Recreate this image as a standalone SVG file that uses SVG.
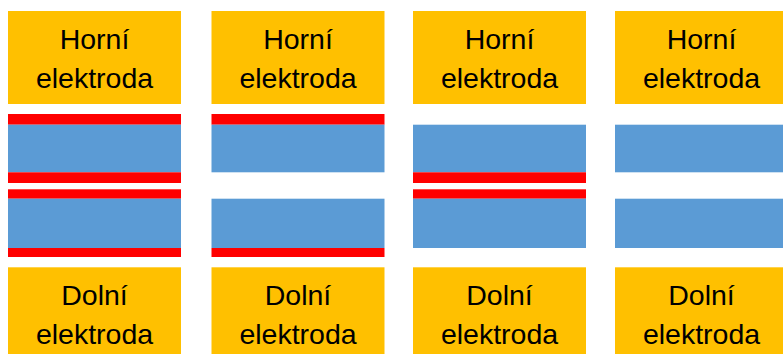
<svg xmlns="http://www.w3.org/2000/svg" width="783" height="354" viewBox="0 0 783 354">
<style>
.el{fill:#FFC000}
.bl{fill:#5B9BD5}
.rd{fill:#FF0000}
.t{font-family:"Liberation Sans",Arial,sans-serif;font-size:28.5px;fill:#000;text-anchor:middle}
</style>
<rect width="783" height="354" fill="#fff"/>
<g id="panel1">
<g id="top1"><rect class="el" x="8" y="11" width="173" height="93"/><text class="t" x="94.5" y="49">Horní</text><text class="t" x="94.5" y="87.5">elektroda</text></g>
<rect class="rd" x="8" y="114" width="173" height="10.7"/>
<rect class="bl" x="8" y="124.7" width="173" height="47.6"/>
<rect class="rd" x="8" y="172.3" width="173" height="10.7"/>
<rect class="rd" x="8" y="189.3" width="173" height="9.4"/>
<rect class="bl" x="8" y="198.7" width="173" height="49.3"/>
<rect class="rd" x="8" y="248" width="173" height="9"/>
<g id="bot1"><rect class="el" x="8" y="267.3" width="173" height="90"/><text class="t" x="94.5" y="305">Dolní</text><text class="t" x="94.5" y="344">elektroda</text></g>
</g>
<g id="panel2">
<g id="top2"><rect class="el" x="211.5" y="11" width="173" height="93"/><text class="t" x="298" y="49">Horní</text><text class="t" x="298" y="87.5">elektroda</text></g>
<rect class="rd" x="211.5" y="114" width="173" height="10.7"/>
<rect class="bl" x="211.5" y="124.7" width="173" height="47.6"/>
<rect class="bl" x="211.5" y="198.7" width="173" height="49.3"/>
<rect class="rd" x="211.5" y="248" width="173" height="9"/>
<g id="bot2"><rect class="el" x="211.5" y="267.3" width="173" height="90"/><text class="t" x="298" y="305">Dolní</text><text class="t" x="298" y="344">elektroda</text></g>
</g>
<g id="panel3">
<g id="top3"><rect class="el" x="413" y="11" width="173" height="93"/><text class="t" x="499.5" y="49">Horní</text><text class="t" x="499.5" y="87.5">elektroda</text></g>
<rect class="bl" x="413" y="124.7" width="173" height="47.6"/>
<rect class="rd" x="413" y="172.3" width="173" height="10.7"/>
<rect class="rd" x="413" y="189.3" width="173" height="9.4"/>
<rect class="bl" x="413" y="198.7" width="173" height="49.3"/>
<g id="bot3"><rect class="el" x="413" y="267.3" width="173" height="90"/><text class="t" x="499.5" y="305">Dolní</text><text class="t" x="499.5" y="344">elektroda</text></g>
</g>
<g id="panel4">
<g id="top4"><rect class="el" x="615" y="11" width="173" height="93"/><text class="t" x="701.5" y="49">Horní</text><text class="t" x="701.5" y="87.5">elektroda</text></g>
<rect class="bl" x="615" y="124.7" width="173" height="47.6"/>
<rect class="bl" x="615" y="198.7" width="173" height="49.3"/>
<g id="bot4"><rect class="el" x="615" y="267.3" width="173" height="90"/><text class="t" x="701.5" y="305">Dolní</text><text class="t" x="701.5" y="344">elektroda</text></g>
</g>
<g id="connectors"/>
</svg>
